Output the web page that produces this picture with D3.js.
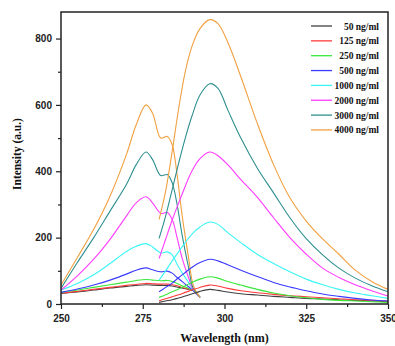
<!DOCTYPE html>
<html>
<head>
<meta charset="utf-8">
<script src="https://cdn.jsdelivr.net/npm/d3@7"></script>
<style>
  body { margin: 0; background: #fff; }
  svg { display: block; }
  .tick text { font-family: "Liberation Sans", Arial, sans-serif; font-weight: bold; font-size: 10px; fill: #222; }
  .axis path { display: none; }
  .axis line { stroke: #222; stroke-width: 1.2; }
  .title { font-family: "Liberation Serif", "Times New Roman", serif; font-weight: bold; fill: #111; }
  .legend text { font-family: "Liberation Serif", "Times New Roman", serif; font-weight: bold; font-size: 9.5px; fill: #111; }
</style>
</head>
<body>
<div id="chart"></div>
<script>
// series labels and colours
const labels = ['50 ng/ml', '125 ng/ml', '250 ng/ml', '500 ng/ml', '1000 ng/ml', '2000 ng/ml', '3000 ng/ml', '4000 ng/ml'];
const colors = ['#404040', '#ff3b3b', '#3be83b', '#3b3bff', '#3bf5f5', '#ff3bff', '#2f8f8f', '#f0a040'];

// excitation spectra (left group)
const excWl = [250, 255, 260, 265, 270, 273, 276, 278, 280.5, 282.5, 284, 285.5, 287, 289, 290.5, 292.5];
const exc50   = [32, 36, 42, 48, 53, 56, 58, 57, 56, 56, 54, 51, 48, 44, 40, 20];
const exc125  = [33, 38, 44, 50, 56, 59, 62, 61, 60, 60, 58, 55, 50, 45, 40, 20];
const exc250  = [35, 42, 50, 58, 66, 71, 74, 72, 70, 71, 68, 62, 55, 47, 40, 20];
const exc500  = [35, 45, 57, 72, 90, 102, 109, 103, 97, 99, 93, 80, 68, 52, 40, 20];
const exc1000 = [42, 62, 88, 122, 158, 174, 182, 172, 154, 157, 148, 120, 95, 65, 42, 20];
const exc2000 = [42, 85, 135, 195, 265, 305, 323, 305, 273, 276, 255, 200, 140, 80, 42, 20];
const exc3000 = [47, 125, 200, 280, 360, 420, 458, 435, 387, 390, 365, 300, 210, 110, 45, 20];
const exc4000 = [57, 140, 225, 325, 450, 540, 600, 575, 500, 505, 480, 390, 270, 140, 55, 20];

// emission spectra (right group)
const emWl = [280, 282, 284, 286, 288, 290, 292.5, 295.5, 298, 301, 305, 310, 315, 320, 325, 330, 335, 340, 345, 350];
const em50   = [5, 9, 13, 18, 24, 30, 38, 44, 41, 36, 31, 27, 23, 20, 17, 15, 13, 11, 9, 7];
const em125  = [10, 16, 22, 28, 35, 42, 50, 57, 54, 47, 40, 34, 29, 25, 22, 19, 16, 13, 11, 9];
const em250  = [20, 28, 37, 45, 55, 65, 75, 82, 78, 68, 57, 44, 33, 25, 19, 14, 11, 9, 7, 5];
const em500  = [37, 50, 63, 80, 95, 110, 125, 135, 130, 118, 102, 83, 65, 51, 40, 30, 23, 17, 12, 9];
const em1000 = [72, 100, 130, 158, 185, 210, 232, 247, 240, 215, 185, 150, 122, 97, 75, 58, 44, 33, 25, 17];
const em2000 = [137, 195, 253, 305, 355, 400, 438, 458, 447, 420, 375, 322, 260, 200, 150, 108, 80, 58, 40, 24];
const em3000 = [198, 265, 345, 425, 500, 565, 630, 664, 650, 585, 500, 410, 335, 260, 197, 148, 108, 78, 55, 37];
const em4000 = [255, 340, 460, 590, 700, 775, 830, 857, 845, 789, 685, 545, 420, 320, 250, 196, 150, 102, 68, 44];

const xMajor = [250, 275, 300, 325, 350];
const xMinor = [262.5, 287.5, 312.5, 337.5];
const yMajor = [0, 200, 400, 600, 800];
const yMinor = [100, 300, 500, 700];

const excSeries = [exc50, exc125, exc250, exc500, exc1000, exc2000, exc3000, exc4000];
const emSeries = [em50, em125, em250, em500, em1000, em2000, em3000, em4000];

const width = 395, height = 346;
const margin = { top: 12, right: 7, bottom: 42, left: 61 };

const svg = d3.select('#chart').append('svg')
  .attr('width', width)
  .attr('height', height);

const x = d3.scaleLinear().domain([250, 350]).range([margin.left, width - margin.right]);
const y = d3.scaleLinear().domain([0, 880]).range([height - margin.bottom, margin.top]);

svg.append('clipPath').attr('id', 'clip')
  .append('rect')
  .attr('x', margin.left).attr('y', margin.top)
  .attr('width', x(350) - x(250)).attr('height', y(0) - y(880));

const line = d3.line()
  .x(d => x(d[0]))
  .y(d => y(d[1]))
  .curve(d3.curveCatmullRom.alpha(0.5));

const curves = svg.append('g').attr('clip-path', 'url(#clip)');

excSeries.forEach((vals, i) => {
  curves.append('path')
    .attr('d', line(excWl.map((w, j) => [w, vals[j]])))
    .attr('fill', 'none')
    .attr('stroke', colors[i])
    .attr('stroke-width', 1.1);
});
emSeries.forEach((vals, i) => {
  curves.append('path')
    .attr('d', line(emWl.map((w, j) => [w, vals[j]])))
    .attr('fill', 'none')
    .attr('stroke', colors[i])
    .attr('stroke-width', 1.1);
});

// axes
svg.append('g').attr('class', 'axis')
  .attr('transform', `translate(0,${y(0)})`)
  .call(d3.axisBottom(x).tickValues(xMajor).tickSize(5).tickSizeOuter(0).tickPadding(6));
svg.append('g').attr('class', 'axis')
  .attr('transform', `translate(0,${y(0)})`)
  .call(d3.axisBottom(x).tickValues(xMinor).tickSize(3).tickSizeOuter(0).tickFormat(''));
svg.append('g').attr('class', 'axis')
  .attr('transform', `translate(${x(250)},0)`)
  .call(d3.axisLeft(y).tickValues(yMajor).tickSize(5).tickSizeOuter(0).tickPadding(4));
svg.append('g').attr('class', 'axis')
  .attr('transform', `translate(${x(250)},0)`)
  .call(d3.axisLeft(y).tickValues(yMinor).tickSize(3).tickSizeOuter(0).tickFormat(''));

// frame
svg.append('rect')
  .attr('x', x(250)).attr('y', y(880))
  .attr('width', x(350) - x(250)).attr('height', y(0) - y(880))
  .attr('fill', 'none')
  .attr('stroke', '#222')
  .attr('stroke-width', 1.5);

// titles
svg.append('text').attr('class', 'title')
  .attr('x', (x(250) + x(350)) / 2).attr('y', 342)
  .attr('text-anchor', 'middle')
  .attr('font-size', 12)
  .text('Wavelength (nm)');

svg.append('text').attr('class', 'title')
  .attr('transform', `translate(21,154) rotate(-90)`)
  .attr('text-anchor', 'middle')
  .attr('font-size', 11.5)
  .text('Intensity (a.u.)');

// legend
const legend = svg.append('g').attr('class', 'legend');
labels.forEach((lab, i) => {
  const ly = 26 + i * 14.85;
  legend.append('line')
    .attr('x1', 311).attr('x2', 332)
    .attr('y1', ly).attr('y2', ly)
    .attr('stroke', colors[i])
    .attr('stroke-width', 1.3);
  legend.append('text')
    .attr('x', 379).attr('y', ly + 3.5)
    .attr('text-anchor', 'end')
    .text(lab);
});
</script>
</body>
</html>
